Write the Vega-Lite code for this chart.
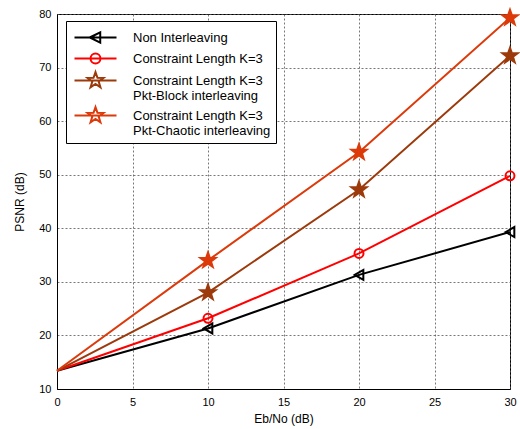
{
  "$schema": "https://vega.github.io/schema/vega-lite/v6.json",
  "width": 453,
  "height": 375,
  "autosize": {"type": "none"},
  "padding": {"left": 57, "top": 14, "right": 10, "bottom": 40},
  "background": "white",
  "config": {
    "font": "Liberation Sans",
    "view": {"stroke": "black", "strokeWidth": 1},
    "axis": {
      "labelFont": "Liberation Sans",
      "labelFontSize": 11,
      "labelColor": "black",
      "titleFont": "Liberation Sans",
      "titleFontSize": 12,
      "titleFontWeight": "normal",
      "titleColor": "black",
      "domainColor": "black",
      "tickColor": "black",
      "ticks": false,
      "gridColor": "#555",
      "gridDash": [2, 2],
      "gridWidth": 0.8,
      "gridOpacity": 1
    }
  },
  "data": {
    "values": [
      {"series": "Non Interleaving", "x": 0, "y": 13.4},
      {"series": "Non Interleaving", "x": 10, "y": 21.3},
      {"series": "Non Interleaving", "x": 20, "y": 31.3},
      {"series": "Non Interleaving", "x": 30, "y": 39.3},
      {"series": "Constraint Length K=3", "x": 0, "y": 13.4},
      {"series": "Constraint Length K=3", "x": 10, "y": 23.2},
      {"series": "Constraint Length K=3", "x": 20, "y": 35.3},
      {"series": "Constraint Length K=3", "x": 30, "y": 49.8},
      {"series": "Constraint Length K=3|Pkt-Block interleaving", "x": 0, "y": 13.4},
      {"series": "Constraint Length K=3|Pkt-Block interleaving", "x": 10, "y": 28.0},
      {"series": "Constraint Length K=3|Pkt-Block interleaving", "x": 20, "y": 47.2},
      {"series": "Constraint Length K=3|Pkt-Block interleaving", "x": 30, "y": 72.2},
      {"series": "Constraint Length K=3|Pkt-Chaotic interleaving", "x": 0, "y": 13.4},
      {"series": "Constraint Length K=3|Pkt-Chaotic interleaving", "x": 10, "y": 34.0},
      {"series": "Constraint Length K=3|Pkt-Chaotic interleaving", "x": 20, "y": 54.2},
      {"series": "Constraint Length K=3|Pkt-Chaotic interleaving", "x": 30, "y": 79.3}
    ]
  },
  "encoding": {
    "x": {
      "field": "x", "type": "quantitative",
      "scale": {"domain": [0, 30], "nice": false, "zero": false},
      "axis": {"values": [0, 5, 10, 15, 20, 25, 30], "title": "Eb/No (dB)", "grid": true, "labelPadding": 7, "titlePadding": 6, "labelFlush": false}
    },
    "y": {
      "field": "y", "type": "quantitative",
      "scale": {"domain": [10, 80], "nice": false, "zero": false},
      "axis": {"values": [10, 20, 30, 40, 50, 60, 70, 80], "title": "PSNR (dB)", "grid": true, "labelPadding": 6, "titlePadding": 12, "labelFlush": false}
    },
    "stroke": {
      "field": "series", "type": "nominal",
      "scale": {
        "domain": ["Non Interleaving", "Constraint Length K=3", "Constraint Length K=3|Pkt-Block interleaving", "Constraint Length K=3|Pkt-Chaotic interleaving"],
        "range": ["#000000", "#FF0000", "#9C3A0C", "#DC3A0A"]
      },
      "legend": {
        "title": null,
        "orient": "none",
        "legendX": 9,
        "legendY": 7,
        "strokeColor": "black",
        "fillColor": "white",
        "padding": 5,
        "symbolSize": 441,
        "symbolOffset": 13,
        "labelOffset": 26,
        "symbolStrokeWidth": 2,
        "symbolType": {"expr": "datum.value === 'Non Interleaving' ? 'M-2,0L2,0M-0.55,0L0.45,-0.5L0.45,0.5Z' : datum.value === 'Constraint Length K=3' ? 'M-2,0L2,0M0.47,0A0.47,0.47 0 1,1 -0.47,0A0.47,0.47 0 1,1 0.47,0Z' : 'M-2,0L2,0M0,-0.8L0.188,-0.259L0.761,-0.247L0.304,0.099L0.47,0.647L0,0.32L-0.47,0.647L-0.304,0.099L-0.761,-0.247L-0.188,-0.259Z'"},
        "symbolFillColor": {"expr": "datum.value === 'Non Interleaving' ? '#000000' : datum.value === 'Constraint Length K=3' ? '#ffffff' : datum.value === 'Constraint Length K=3|Pkt-Block interleaving' ? '#9C3A0C' : '#DC3A0A'"},
        "labelFont": "Liberation Sans",
        "labelFontSize": 13,
        "labelColor": "black",
        "labelLimit": 300,
        "rowPadding": 0,
        "labelExpr": "split(datum.label, '|')"
      }
    }
  },
  "layer": [
    {
      "mark": {"type": "line", "strokeWidth": 2, "clip": false}
    },
    {
      "transform": [{"filter": "datum.x > 0 && datum.series === 'Non Interleaving'"}],
      "mark": {"type": "point", "shape": "triangle-left", "size": 100, "filled": false, "strokeWidth": 2, "opacity": 1, "clip": false}
    },
    {
      "transform": [{"filter": "datum.x > 0 && datum.series === 'Constraint Length K=3'"}],
      "mark": {"type": "point", "shape": "circle", "size": 80, "filled": false, "strokeWidth": 2, "opacity": 1, "clip": false}
    },
    {
      "transform": [{"filter": "datum.x > 0 && datum.series === 'Constraint Length K=3|Pkt-Block interleaving'"}],
      "mark": {"type": "point", "shape": "M0,-1L0.235,-0.324L0.951,-0.309L0.38,0.124L0.588,0.809L0,0.4L-0.588,0.809L-0.38,0.124L-0.951,-0.309L-0.235,-0.324Z", "size": 256, "filled": true, "fill": "#9C3A0C", "strokeWidth": 2, "opacity": 1, "clip": false}
    },
    {
      "transform": [{"filter": "datum.x > 0 && datum.series === 'Constraint Length K=3|Pkt-Chaotic interleaving'"}],
      "mark": {"type": "point", "shape": "M0,-1L0.235,-0.324L0.951,-0.309L0.38,0.124L0.588,0.809L0,0.4L-0.588,0.809L-0.38,0.124L-0.951,-0.309L-0.235,-0.324Z", "size": 256, "filled": true, "fill": "#DC3A0A", "strokeWidth": 2, "opacity": 1, "clip": false}
    }
  ]
}
